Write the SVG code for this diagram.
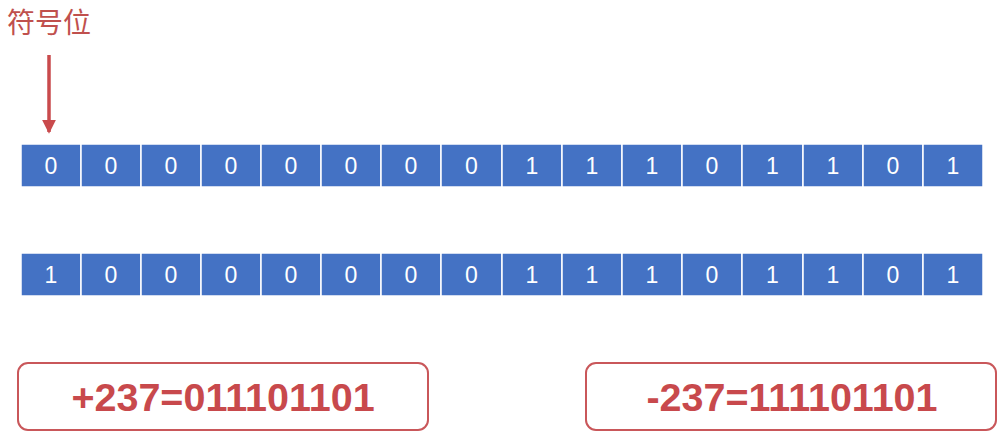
<svg xmlns="http://www.w3.org/2000/svg" width="1003" height="439" viewBox="0 0 1003 439">
<defs>
<style>
.cell{fill:#4472C4;stroke:#ffffff;stroke-width:1.5}
.bit{font-family:"Liberation Sans",Arial,sans-serif;font-size:23px;fill:#ffffff;text-anchor:middle}
.box{fill:#ffffff;stroke:#C9575A;stroke-width:2}
.eq{font-family:"Liberation Sans",Arial,sans-serif;font-size:39.5px;font-weight:bold;fill:#C8494C;text-anchor:middle}
.lbl{font-family:"Noto Sans CJK SC","Liberation Sans",sans-serif;font-size:28px;fill:#C0504D}
</style>
<marker id="ah" markerWidth="4" markerHeight="4" refX="3.5" refY="2" orient="auto" markerUnits="strokeWidth">
<path d="M0,0 L4,2 L0,4 Z" fill="#C94A4C"/>
</marker>
</defs>
<rect width="1003" height="439" fill="#ffffff"/>
<g id="label-sign">
<text class="lbl" x="7" y="33">符号位</text>
</g>
<g id="connectors">
<line x1="49" y1="55" x2="49" y2="132" stroke="#C94A4C" stroke-width="3.5" marker-end="url(#ah)"/>
</g>
<g id="row1">
<rect class="cell" x="21" y="144" width="60" height="43"/><text class="bit" x="51" y="174">0</text>
<rect class="cell" x="81" y="144" width="60" height="43"/><text class="bit" x="111" y="174">0</text>
<rect class="cell" x="141" y="144" width="60" height="43"/><text class="bit" x="171" y="174">0</text>
<rect class="cell" x="201" y="144" width="60" height="43"/><text class="bit" x="231" y="174">0</text>
<rect class="cell" x="261" y="144" width="60" height="43"/><text class="bit" x="291" y="174">0</text>
<rect class="cell" x="321" y="144" width="60" height="43"/><text class="bit" x="351" y="174">0</text>
<rect class="cell" x="381" y="144" width="60" height="43"/><text class="bit" x="411" y="174">0</text>
<rect class="cell" x="441" y="144" width="61" height="43"/><text class="bit" x="471.5" y="174">0</text>
<rect class="cell" x="502" y="144" width="60" height="43"/><text class="bit" x="532" y="174">1</text>
<rect class="cell" x="562" y="144" width="60" height="43"/><text class="bit" x="592" y="174">1</text>
<rect class="cell" x="622" y="144" width="60" height="43"/><text class="bit" x="652" y="174">1</text>
<rect class="cell" x="682" y="144" width="60" height="43"/><text class="bit" x="712" y="174">0</text>
<rect class="cell" x="742" y="144" width="61" height="43"/><text class="bit" x="772.5" y="174">1</text>
<rect class="cell" x="803" y="144" width="60" height="43"/><text class="bit" x="833" y="174">1</text>
<rect class="cell" x="863" y="144" width="60" height="43"/><text class="bit" x="893" y="174">0</text>
<rect class="cell" x="923" y="144" width="60" height="43"/><text class="bit" x="953" y="174">1</text>
</g>
<g id="row2">
<rect class="cell" x="21" y="253" width="60" height="43"/><text class="bit" x="51" y="283">1</text>
<rect class="cell" x="81" y="253" width="60" height="43"/><text class="bit" x="111" y="283">0</text>
<rect class="cell" x="141" y="253" width="60" height="43"/><text class="bit" x="171" y="283">0</text>
<rect class="cell" x="201" y="253" width="60" height="43"/><text class="bit" x="231" y="283">0</text>
<rect class="cell" x="261" y="253" width="60" height="43"/><text class="bit" x="291" y="283">0</text>
<rect class="cell" x="321" y="253" width="60" height="43"/><text class="bit" x="351" y="283">0</text>
<rect class="cell" x="381" y="253" width="60" height="43"/><text class="bit" x="411" y="283">0</text>
<rect class="cell" x="441" y="253" width="61" height="43"/><text class="bit" x="471.5" y="283">0</text>
<rect class="cell" x="502" y="253" width="60" height="43"/><text class="bit" x="532" y="283">1</text>
<rect class="cell" x="562" y="253" width="60" height="43"/><text class="bit" x="592" y="283">1</text>
<rect class="cell" x="622" y="253" width="60" height="43"/><text class="bit" x="652" y="283">1</text>
<rect class="cell" x="682" y="253" width="60" height="43"/><text class="bit" x="712" y="283">0</text>
<rect class="cell" x="742" y="253" width="61" height="43"/><text class="bit" x="772.5" y="283">1</text>
<rect class="cell" x="803" y="253" width="60" height="43"/><text class="bit" x="833" y="283">1</text>
<rect class="cell" x="863" y="253" width="60" height="43"/><text class="bit" x="893" y="283">0</text>
<rect class="cell" x="923" y="253" width="60" height="43"/><text class="bit" x="953" y="283">1</text>
</g>
<g id="box-positive">
<rect class="box" x="18" y="363" width="410" height="67" rx="10"/>
<text class="eq" x="223" y="411">+237=011101101</text>
</g>
<g id="box-negative">
<rect class="box" x="586" y="363" width="410" height="67" rx="10"/>
<text class="eq" x="792" y="411">-237=111101101</text>
</g>
</svg>
